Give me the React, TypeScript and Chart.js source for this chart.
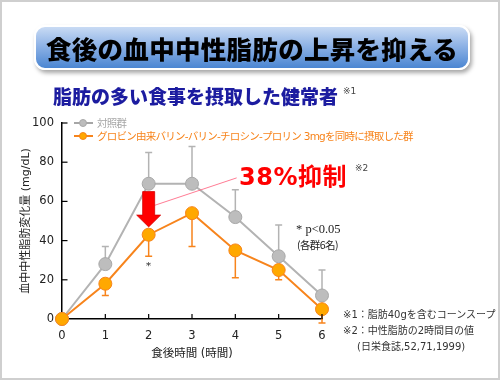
import React, { useEffect, useRef } from "react";
import { Chart, registerables } from "chart.js";

Chart.register(...registerables);

// ---- data ----
const hours = ["0", "1", "2", "3", "4", "5", "6"];
const controlValues = [0, 28, 69, 69, 52, 32, 12];
const controlUpper = [null, 37, 85, 88, 66, 48, 25];
const treatedValues = [0, 18, 43, 54, 35, 25, 5];
const treatedLower = [null, 12, 32, 37, 21, 20, -2];
const yTicks = [0, 20, 40, 60, 80, 100];

const controlLabel = "対照群";
const treatedLabel = "グロビン由来バリン-バリン-チロシン-プロリン 3mgを同時に摂取した群";

const GRAY_LINE = "#b3b3b3";
const GRAY_FILL = "#bdbdbd";
const GRAY_BORDER = "#a8a8a8";
const ORANGE_LINE = "#f7841c";
const ORANGE_FILL = "#ffa800";
const ORANGE_BORDER = "#f7841c";

const LATIN_JP = "'DejaVu Sans', 'Noto Sans CJK JP', sans-serif";
const JP = "'Noto Sans CJK JP', sans-serif";

const extrasPlugin = {
  id: "extras",
  beforeDatasetsDraw(chart: any) {
    const { ctx } = chart;
    const xs = chart.scales.x;
    const ys = chart.scales.y;
    const drawBars = (vals: number[], ends: (number | null)[], color: string) => {
      ctx.save();
      ctx.strokeStyle = color;
      ctx.lineWidth = 1.5;
      vals.forEach((v, i) => {
        const e = ends[i];
        if (e === null) return;
        const x = xs.getPixelForValue(i);
        const y0 = ys.getPixelForValue(v);
        const y1 = ys.getPixelForValue(e);
        ctx.beginPath();
        ctx.moveTo(x, y0);
        ctx.lineTo(x, y1);
        ctx.moveTo(x - 3.5, y1);
        ctx.lineTo(x + 3.5, y1);
        ctx.stroke();
      });
      ctx.restore();
    };
    drawBars(controlValues, controlUpper, GRAY_LINE);
    drawBars(treatedValues, treatedLower, ORANGE_LINE);
  },
  afterDatasetsDraw(chart: any) {
    const { ctx, chartArea } = chart;
    const xs = chart.scales.x;
    const ys = chart.scales.y;
    ctx.save();
    ctx.strokeStyle = "#000";
    ctx.lineWidth = 1.2;
    hours.forEach((_, i) => {
      if (i === 0) return;
      const x = xs.getPixelForValue(i);
      ctx.beginPath();
      ctx.moveTo(x, chartArea.bottom);
      ctx.lineTo(x, chartArea.bottom - 5);
      ctx.stroke();
    });
    yTicks.forEach((t) => {
      if (t === 0) return;
      const y = ys.getPixelForValue(t);
      ctx.beginPath();
      ctx.moveTo(chartArea.left, y);
      ctx.lineTo(chartArea.left + 5.5, y);
      ctx.stroke();
    });
    ctx.restore();

    ctx.save();
    ctx.strokeStyle = "#ff5a78";
    ctx.lineWidth = 0.8;
    ctx.beginPath();
    ctx.moveTo(xs.getPixelForValue(2) + 6, ys.getPixelForValue(58));
    ctx.lineTo(xs.getPixelForValue(2) + 88, ys.getPixelForValue(72));
    ctx.stroke();
    ctx.restore();

    const ax = xs.getPixelForValue(2);
    const top = ys.getPixelForValue(65);
    const neck = ys.getPixelForValue(53);
    const tip = ys.getPixelForValue(47);
    ctx.save();
    ctx.fillStyle = "#ff0000";
    ctx.strokeStyle = "#d40000";
    ctx.lineWidth = 0.8;
    ctx.beginPath();
    ctx.moveTo(ax - 6, top);
    ctx.lineTo(ax + 6, top);
    ctx.lineTo(ax + 6, neck);
    ctx.lineTo(ax + 12, neck);
    ctx.lineTo(ax, tip);
    ctx.lineTo(ax - 12, neck);
    ctx.lineTo(ax - 6, neck);
    ctx.closePath();
    ctx.fill();
    ctx.stroke();
    ctx.restore();
  },
};

function ChartCanvas() {
  const ref = useRef<HTMLCanvasElement>(null);
  useEffect(() => {
    if (!ref.current) return;
    const chart = new Chart(ref.current, {
      type: "line",
      data: {
        labels: hours,
        datasets: [
          {
            label: controlLabel,
            data: controlValues,
            borderColor: GRAY_LINE,
            backgroundColor: GRAY_FILL,
            pointBackgroundColor: GRAY_FILL,
            pointBorderColor: GRAY_BORDER,
            pointBorderWidth: 1,
            pointRadius: 6.5,
            borderWidth: 2,
            tension: 0,
            clip: false as any,
            order: 2,
          },
          {
            label: treatedLabel,
            data: treatedValues,
            borderColor: ORANGE_LINE,
            backgroundColor: ORANGE_FILL,
            pointBackgroundColor: ORANGE_FILL,
            pointBorderColor: ORANGE_BORDER,
            pointBorderWidth: 1,
            pointRadius: 6.5,
            borderWidth: 2,
            tension: 0,
            clip: false as any,
            order: 1,
          },
        ],
      },
      options: {
        animation: false,
        responsive: true,
        maintainAspectRatio: false,
        layout: { padding: { left: 8, right: 178, top: 123, bottom: 0 } },
        plugins: {
          legend: { display: false },
          tooltip: { enabled: false },
        },
        scales: {
          x: {
            type: "category",
            offset: false,
            grid: { display: false, drawTicks: false },
            border: { color: "#000", width: 1.5 },
            ticks: {
              color: "#222",
              font: { family: LATIN_JP, size: 11.5 },
              padding: 10,
              maxRotation: 0,
            },
            title: {
              display: true,
              text: "食後時間 (時間)",
              color: "#222",
              font: { family: LATIN_JP, size: 11.5 },
              padding: { top: 0, bottom: 19 },
            },
            afterFit(scale: any) {
              scale.height = 61;
            },
          },
          y: {
            min: 0,
            max: 100,
            grid: { display: false, drawTicks: false },
            border: { color: "#000", width: 1.5 },
            ticks: {
              stepSize: 20,
              color: "#222",
              font: { family: LATIN_JP, size: 11.5 },
              padding: 8,
            },
            title: {
              display: true,
              text: "血中中性脂肪変化量 (mg/dL)",
              color: "#222",
              font: { family: LATIN_JP, size: 11 },
              padding: { top: 12, bottom: 0 },
            },
            afterFit(scale: any) {
              scale.width = 54;
            },
          },
        },
      },
      plugins: [extrasPlugin],
    });
    return () => chart.destroy();
  }, []);
  return (
    <canvas
      ref={ref}
      style={{ position: "absolute", left: 0, top: 0, width: 500, height: 380 }}
    />
  );
}

function LegendRow({ color, fill, border, label, top }: any) {
  return (
    <div style={{ position: "absolute", left: 74, top, height: 14, display: "flex", alignItems: "center" }}>
      <div style={{ position: "relative", width: 19, height: 14 }}>
        <div style={{ position: "absolute", left: 0, top: 6, width: 19, height: 2, background: color }} />
        <div
          style={{
            position: "absolute",
            left: 5,
            top: 3,
            width: 8,
            height: 8,
            borderRadius: "50%",
            background: fill,
            border: `1px solid ${border}`,
            boxSizing: "border-box",
          }}
        />
      </div>
      <span
        style={{
          marginLeft: 4,
          fontFamily: LATIN_JP,
          fontSize: 10.5,
          letterSpacing: -0.75,
          color,
          whiteSpace: "nowrap",
          lineHeight: "14px",
        }}
      >
        {label}
      </span>
    </div>
  );
}

export default function App() {
  return (
    <div
      style={{
        position: "fixed",
        left: 0,
        top: 0,
        width: 500,
        height: 380,
        background: "#fff",
        overflow: "hidden",
      }}
    >
      <ChartCanvas />
      <div
        style={{
          position: "absolute",
          left: 34,
          top: 25,
          width: 436,
          height: 45,
          borderRadius: 11,
          border: "2px solid #fff",
          boxSizing: "border-box",
          background: "linear-gradient(to bottom, #c9dbf4 0%, #8fb3e6 45%, #4b86d2 100%)",
          boxShadow: "2px 3px 4px rgba(0,0,0,0.35)",
          display: "flex",
          alignItems: "center",
          justifyContent: "center",
          fontFamily: JP,
          fontWeight: 900,
          fontSize: 25.5,
          color: "#000",
          letterSpacing: 0.3,
        }}
      >
        食後の血中中性脂肪の上昇を抑える
      </div>
      <div
        style={{
          position: "absolute",
          left: 53,
          top: 84,
          fontFamily: JP,
          fontWeight: 900,
          fontSize: 19,
          color: "#1c1ca0",
          whiteSpace: "nowrap",
          lineHeight: "24px",
        }}
      >
        脂肪の多い食事を摂取した健常者
      </div>
      <div style={{ position: "absolute", left: 343, top: 86, fontFamily: LATIN_JP, fontSize: 9, color: "#444" }}>
        ※1
      </div>
      <LegendRow color="#a6a6a6" fill={GRAY_FILL} border={GRAY_BORDER} label={controlLabel} top={116} />
      <LegendRow color={ORANGE_LINE} fill={ORANGE_FILL} border={ORANGE_BORDER} label={treatedLabel} top={129} />
      <div
        style={{
          position: "absolute",
          left: 239,
          top: 161,
          fontFamily: LATIN_JP,
          fontWeight: 700,
          fontSize: 24,
          letterSpacing: 0.5,
          color: "#ff0000",
          whiteSpace: "nowrap",
          lineHeight: "32px",
        }}
      >
        38%抑制
      </div>
      <div style={{ position: "absolute", left: 355, top: 163, fontFamily: LATIN_JP, fontSize: 9, color: "#444" }}>
        ※2
      </div>
      <div style={{ position: "absolute", left: 146, top: 260, fontFamily: "'DejaVu Serif', serif", fontSize: 10, color: "#222" }}>
        *
      </div>
      <div
        style={{
          position: "absolute",
          left: 296,
          top: 222,
          color: "#222",
          lineHeight: "15px",
          whiteSpace: "nowrap",
        }}
      >
        <div style={{ fontFamily: "'Liberation Serif', serif", fontSize: 12.5 }}>* p&lt;0.05</div>
        <div style={{ marginLeft: 1, fontFamily: JP, fontSize: 10.5, letterSpacing: -0.6 }}>(各群6名)</div>
      </div>
      <div
        style={{
          position: "absolute",
          left: 343,
          top: 307,
          fontFamily: LATIN_JP,
          fontSize: 10,
          color: "#333",
          lineHeight: "16px",
          whiteSpace: "nowrap",
        }}
      >
        <div>※1：脂肪40gを含むコーンスープ</div>
        <div>※2：中性脂肪の2時間目の値</div>
        <div style={{ marginLeft: 14 }}>(日栄食誌,52,71,1999)</div>
      </div>
      <div
        style={{
          position: "absolute",
          left: 0,
          top: 0,
          width: 500,
          height: 380,
          border: "2px solid #cfcfcf",
          boxSizing: "border-box",
          pointerEvents: "none",
        }}
      />
    </div>
  );
}
